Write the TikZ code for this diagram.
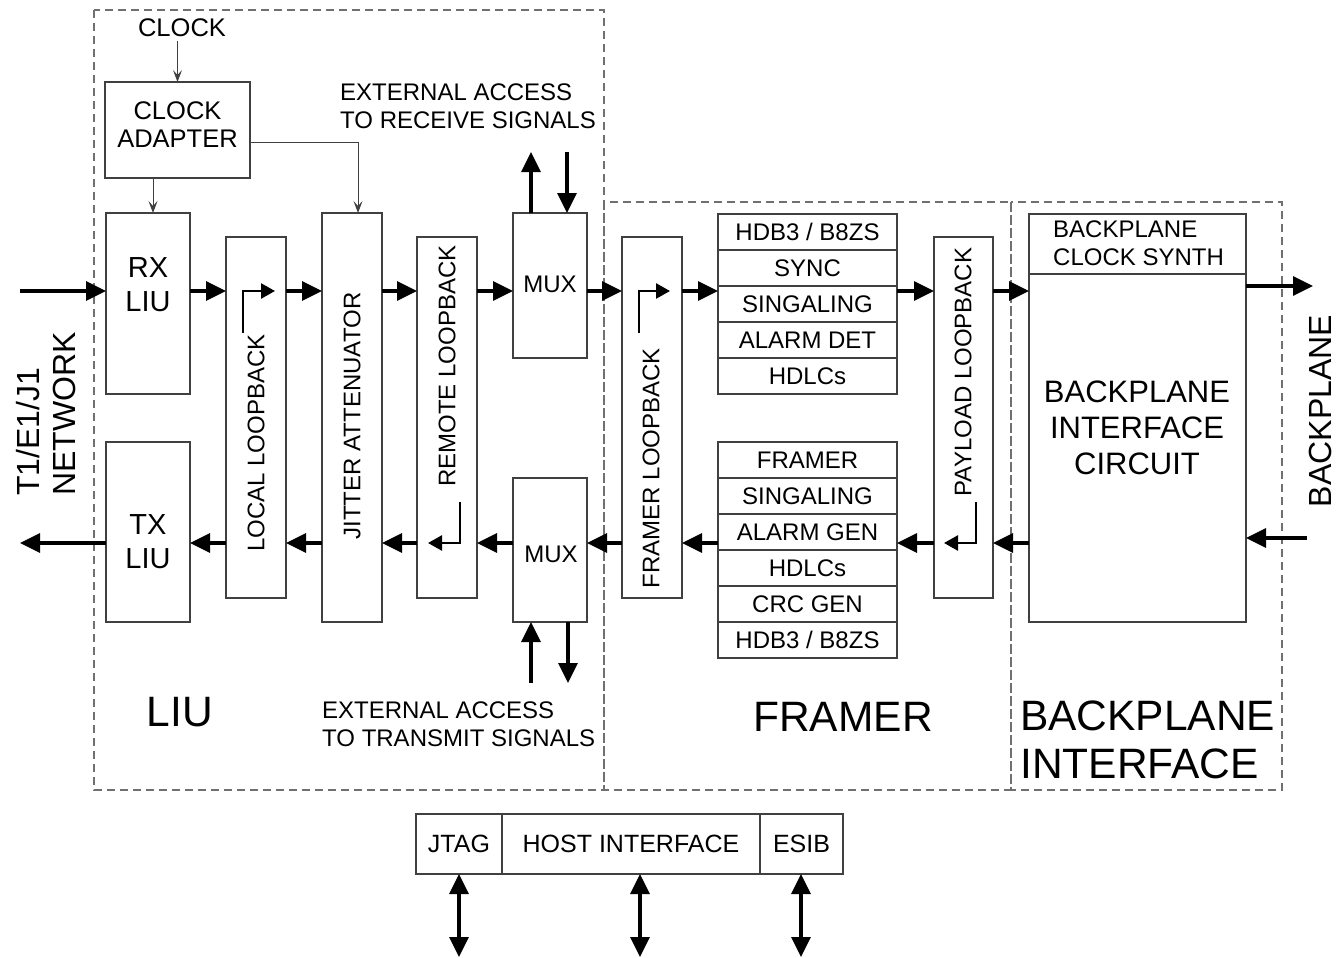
\documentclass[tikz,border=0pt]{standalone}
\usepackage{fontspec}
\setmainfont{Liberation Sans}
\usetikzlibrary{arrows.meta}
\definecolor{boxc}{HTML}{404040}
\definecolor{dashc}{HTML}{707070}
\tikzset{
  blk/.style={draw=boxc, line width=1.2pt, inner sep=0pt, outer sep=0pt, anchor=north west},
  region/.style={draw=dashc, line width=1.1pt, dash pattern=on 8pt off 5pt},
  thk/.style={line width=3.3pt, -{Triangle[length=20pt,width=19pt]}},
  dbl/.style={line width=3.3pt, {Triangle[length=20pt,width=19pt]}-{Triangle[length=20pt,width=19pt]}},
  sm/.style={line width=2.6pt, line join=miter, -{Triangle[length=14pt,width=15pt]}},
  thn/.style={line width=1pt, draw=boxc, -{Stealth[length=12pt,width=9pt,inset=5pt]}},
  txs/.style={font=\fontsize{24}{28}\selectfont, inner sep=0pt},
  txk/.style={font=\fontsize{25.5}{28}\selectfont, inner sep=0pt},
  txm/.style={font=\fontsize{29}{34}\selectfont, inner sep=0pt},
  txh/.style={font=\fontsize{25}{30}\selectfont, inner sep=0pt},
  txc/.style={font=\fontsize{31}{36}\selectfont, inner sep=0pt},
  txn/.style={font=\fontsize{32}{36}\selectfont, inner sep=0pt},
  txb/.style={font=\fontsize{42.5}{48}\selectfont, inner sep=0pt},
}
\begin{document}
\begin{tikzpicture}[x=1pt,y=-1pt]
\useasboundingbox (0,0) rectangle (1338,958);
% regions
\draw[region] (94,10) rectangle (604,790);
\draw[region] (604,202) rectangle (1011,790);
\draw[region] (1011,202) rectangle (1282,790);
% blocks
\node[blk, minimum width=145pt, minimum height=96pt] (ca) at (105,82) {};
\node[blk, minimum width=84pt, minimum height=181pt] (rx) at (106,213) {};
\node[blk, minimum width=84pt, minimum height=180pt] (tx) at (106,442) {};
\node[blk, minimum width=60pt, minimum height=361pt] (loc) at (226,237) {};
\node[blk, minimum width=60pt, minimum height=409pt] (jit) at (322,213) {};
\node[blk, minimum width=60pt, minimum height=361pt] (rem) at (417,237) {};
\node[blk, minimum width=74pt, minimum height=145pt] (muxa) at (513,213) {};
\node[blk, minimum width=74pt, minimum height=144pt] (muxb) at (513,478) {};
\node[blk, minimum width=60pt, minimum height=361pt] (frl) at (622,237) {};
\node[blk, minimum width=59pt, minimum height=361pt] (pay) at (934,237) {};
\node[blk, minimum width=217pt, minimum height=408pt] (bp) at (1029,214) {};
\node[blk, minimum width=217pt, minimum height=60pt] (syn) at (1029,214) {};
\foreach \t [count=\i] in {HDB3 / B8ZS,SYNC,SINGALING,ALARM DET,HDLCs}
  \node[blk, txs, minimum width=179pt, minimum height=36pt] (r\i) at (718,{214+36*(\i-1)}) {\t};
\foreach \t [count=\i] in {FRAMER,SINGALING,ALARM GEN,HDLCs,CRC GEN,HDB3 / B8ZS}
  \node[blk, txs, minimum width=179pt, minimum height=36pt] (t\i) at (718,{442+36*(\i-1)}) {\t};
\node[blk, txh, minimum width=86pt, minimum height=60pt] (jtag) at (416,814) {JTAG};
\node[blk, txh, minimum width=258pt, minimum height=60pt] (host) at (502,814) {HOST INTERFACE};
\node[blk, txh, minimum width=83pt, minimum height=60pt] (esib) at (760,814) {ESIB};
% texts
\node[txk] (clk) at (182,28) {CLOCK};
\node[txk, align=center] (calab) at (177.5,125) {CLOCK\\ADAPTER};
\node[txm, align=center] (rxlab) at (148,285) {RX\\LIU};
\node[txm, align=center] (txlab) at (148,542) {TX\\LIU};
\node[txs, rotate=90] (loclab) at (256,443) {LOCAL LOOPBACK};
\node[txs, rotate=90] (jitlab) at (352,416) {JITTER ATTENUATOR};
\node[txs, rotate=90] (remlab) at (447,366) {REMOTE LOOPBACK};
\node[txs] (muxalab) at (550,284) {MUX};
\node[txs] (muxblab) at (551,554) {MUX};
\node[txs, rotate=90] (frllab) at (651,468) {FRAMER LOOPBACK};
\node[txs, rotate=90] (paylab) at (963,372) {PAYLOAD LOOPBACK};
\node[txs, align=left, anchor=west] (synlab) at (1053,243) {BACKPLANE\\CLOCK SYNTH};
\node[txc, align=center] (bplab) at (1137,428) {BACKPLANE\\INTERFACE\\CIRCUIT};
\node[txs, align=left, anchor=west] (extr) at (340,106) {EXTERNAL ACCESS\\TO RECEIVE SIGNALS};
\node[txs, align=left, anchor=west] (extt) at (322,724) {EXTERNAL ACCESS\\TO TRANSMIT SIGNALS};
\node[txn, rotate=90, align=left] (net) at (46,414) {T1/E1/J1\\NETWORK};
\node[txn, rotate=90] (bpl) at (1320,411) {BACKPLANE};
\node[txb] (liulab) at (180,712) {LIU};
\node[txb] (frlab) at (843,717) {FRAMER};
\node[txb, align=left, anchor=west] (bpilab) at (1020,740) {BACKPLANE\\INTERFACE};
% row coordinates
\coordinate (top) at (0,291);
\coordinate (bot) at (0,543);
\coordinate (in) at (20,291);
\coordinate (netout) at (20,543);
\coordinate (out) at (1313,286);
\coordinate (bpin) at (1307,538);
\coordinate (x153) at (153,0);
\coordinate (cj) at (358,142);
\coordinate (ua) at (531,152);
\coordinate (da) at (567,152);
\coordinate (ub) at (531,683);
\coordinate (db) at (568,683);
\coordinate (hj) at (459,957);
\coordinate (hh) at (640,957);
\coordinate (he) at (801,957);
% clock connectors
\draw[thn] (ca.north |- clk.south) ++(0,4) -- (ca.north);
\draw[thn] (ca.south -| x153) -- (rx.north -| x153);
\draw[thn] (ca.east |- cj) -| (jit.north -| cj);
% receive path
\draw[thk] (in) -- (rx.west |- top);
\draw[thk] (rx.east |- top) -- (loc.west |- top);
\draw[thk] (loc.east |- top) -- (jit.west |- top);
\draw[thk] (jit.east |- top) -- (rem.west |- top);
\draw[thk] (rem.east |- top) -- (muxa.west |- top);
\draw[thk] (muxa.east |- top) -- (frl.west |- top);
\draw[thk] (frl.east |- top) -- (r3.west |- top);
\draw[thk] (r3.east |- top) -- (pay.west |- top);
\draw[thk] (pay.east |- top) -- (bp.west |- top);
\draw[thk] (bp.east |- out) -- (out);
% transmit path
\draw[thk] (bpin) -- (bp.east |- bpin);
\draw[thk] (bp.west |- bot) -- (pay.east |- bot);
\draw[thk] (pay.west |- bot) -- (t3.east |- bot);
\draw[thk] (t3.west |- bot) -- (frl.east |- bot);
\draw[thk] (frl.west |- bot) -- (muxb.east |- bot);
\draw[thk] (muxb.west |- bot) -- (rem.east |- bot);
\draw[thk] (rem.west |- bot) -- (jit.east |- bot);
\draw[thk] (jit.west |- bot) -- (loc.east |- bot);
\draw[thk] (loc.west |- bot) -- (tx.east |- bot);
\draw[thk] (tx.west |- bot) -- (netout);
% loopback symbols
\draw[sm] (243,333) -- (243,291) -- (275,291);
\draw[sm] (639,333) -- (639,291) -- (670,291);
\draw[sm] (460,502) -- (460,543) -- (428,543);
\draw[sm] (976,502) -- (976,543) -- (944,543);
% external access
\draw[thk] (muxa.north -| ua) -- (ua);
\draw[thk] (da) -- (muxa.north -| da);
\draw[thk] (ub) -- (muxb.south -| ub);
\draw[thk] (muxb.south -| db) -- (db);
% host
\draw[dbl] (jtag.south -| hj) -- (hj);
\draw[dbl] (host.south -| hh) -- (hh);
\draw[dbl] (esib.south -| he) -- (he);
\end{tikzpicture}
\end{document}
